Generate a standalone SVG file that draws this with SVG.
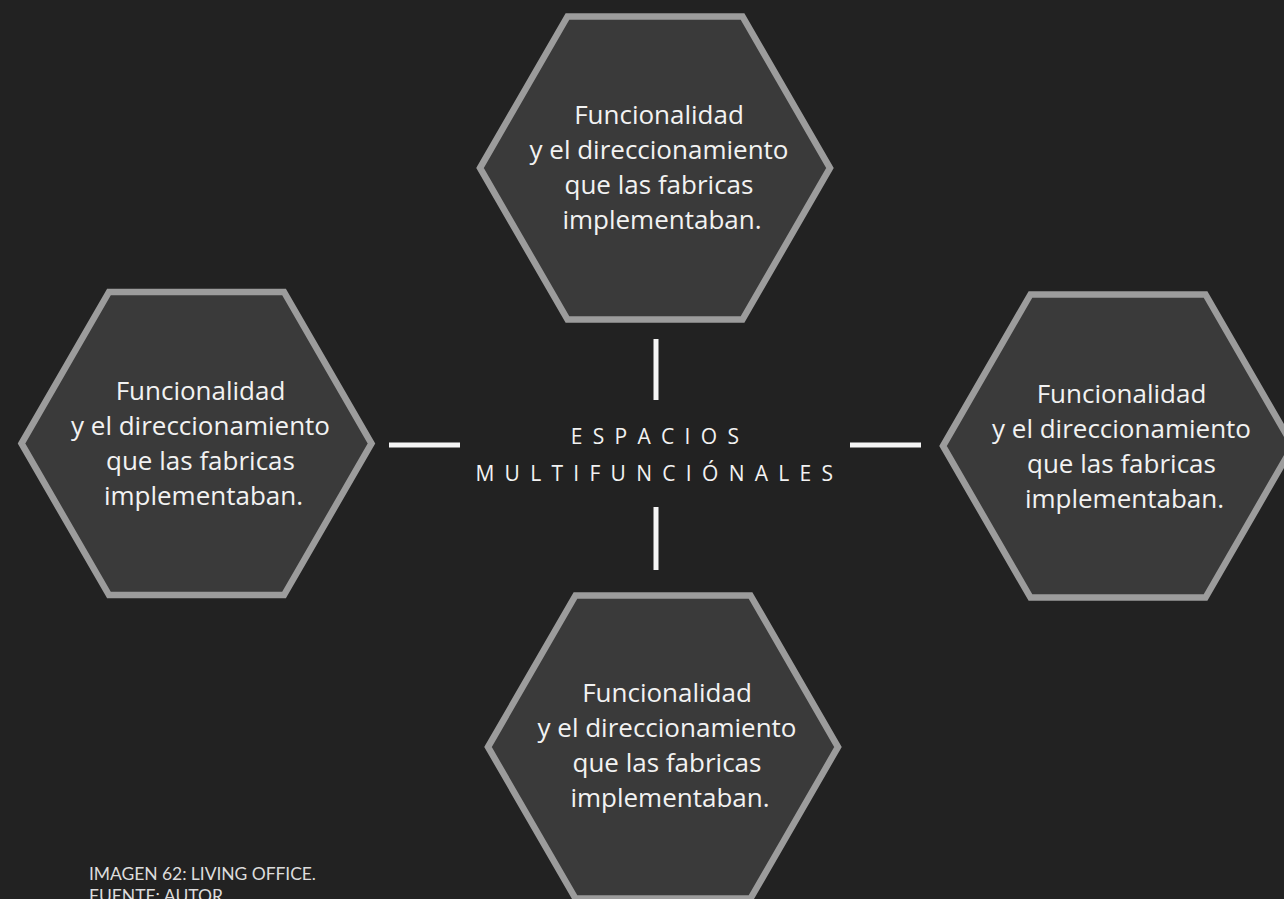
<svg xmlns="http://www.w3.org/2000/svg" width="1284" height="899" viewBox="0 0 1284 899">
<style>
.hex{fill:#3a3a3a;stroke:#9c9c9c;stroke-width:6.5;stroke-linejoin:miter}
.lbl{font-family:"Open Sans","Noto Sans",sans-serif;font-size:26px;fill:#f2f2f2;text-anchor:middle}
.ctr{font-family:"Open Sans","Noto Sans",sans-serif;font-size:21px;fill:#f2f2f2;letter-spacing:10.3px}
.bar{stroke:#f5f5f5;stroke-width:5;fill:none}
.cap{font-family:Lato,"Liberation Sans",sans-serif;font-size:17.5px;fill:#dcdcdc}
</style>
<defs>
<polygon id="hexshape" points="-175,0 -87.5,-151.55 87.5,-151.55 175,0 87.5,151.55 -87.5,151.55"/>
</defs>
<rect width="1284" height="899" fill="#222222"/>
<g id="connectors">
<line class="bar" x1="656" y1="339" x2="656" y2="400"/>
<line class="bar" x1="656" y1="507" x2="656" y2="570"/>
<line class="bar" x1="389" y1="445" x2="460" y2="445"/>
<line class="bar" x1="850" y1="445" x2="921" y2="445"/>
</g>
<g id="node-top">
<use href="#hexshape" class="hex" transform="translate(655,168)"/>
<text class="lbl"><tspan x="659" y="124">Funcionalidad</tspan><tspan x="659" y="159">y el direccionamiento</tspan><tspan x="659" y="194">que las fabricas</tspan><tspan x="662" y="229">implementaban.</tspan></text>
</g>
<g id="node-left">
<use href="#hexshape" class="hex" transform="translate(196.5,443.5)"/>
<text class="lbl"><tspan x="200.5" y="400">Funcionalidad</tspan><tspan x="200.5" y="435">y el direccionamiento</tspan><tspan x="200.5" y="470">que las fabricas</tspan><tspan x="203.5" y="505">implementaban.</tspan></text>
</g>
<g id="node-right">
<use href="#hexshape" class="hex" transform="translate(1118,446)"/>
<text class="lbl"><tspan x="1121.5" y="403">Funcionalidad</tspan><tspan x="1121.5" y="438">y el direccionamiento</tspan><tspan x="1121.5" y="473">que las fabricas</tspan><tspan x="1124.5" y="508">implementaban.</tspan></text>
</g>
<g id="node-bottom">
<use href="#hexshape" class="hex" transform="translate(663,747)"/>
<text class="lbl"><tspan x="667" y="702">Funcionalidad</tspan><tspan x="667" y="737">y el direccionamiento</tspan><tspan x="667" y="772">que las fabricas</tspan><tspan x="670" y="807">implementaban.</tspan></text>
</g>
<g id="node-center">
<text class="ctr" x="570.8" y="444">ESPACIOS</text>
<text class="ctr" x="475.4" y="481">MULTIFUNCIÓNALES</text>
</g>
<g id="caption">
<text class="cap" x="89" y="880" textLength="227" lengthAdjust="spacing">IMAGEN 62: LIVING OFFICE.</text>
<text class="cap" x="89" y="902" textLength="134" lengthAdjust="spacing">FUENTE: AUTOR</text>
</g>
</svg>
